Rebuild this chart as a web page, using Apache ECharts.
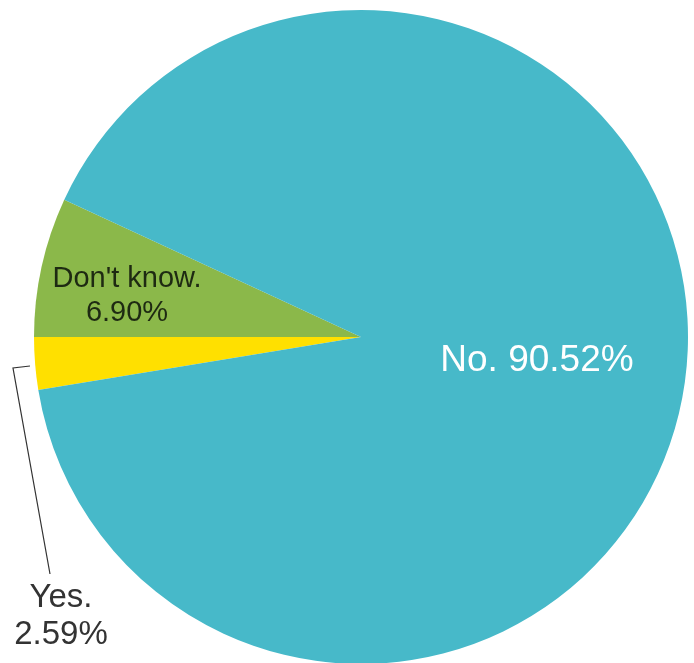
<!DOCTYPE html>
<html><head><meta charset="utf-8">
<script src="https://cdn.jsdelivr.net/npm/echarts@6/dist/echarts.min.js"></script>
<style>html,body{margin:0;padding:0;background:#fff}#c{width:694px;height:663px}</style>
</head><body><div id="c"></div>
<script>
const categories = ["Yes.", "Don't know.", "No."];
const values = [2.59, 6.90, 90.52];
const colors = ["#FFE000", "#8BB84A", "#47B9C9"];

const chart = echarts.init(document.getElementById('c'), null, {renderer: 'canvas'});
const labelSpots = [
  {x: 61, y: 616, ln: [[30, 366], [13, 368], [50, 574]]},
  {x: 127, y: 296},
  {x: 537, y: 361}
];
chart.setOption({
  animation: false,
  series: [{
    type: 'pie',
    center: [361, 337],
    radius: [0, 327],
    startAngle: 189.32,
    clockwise: true,
    avoidLabelOverlap: false,
    data: categories.map((c, i) => ({
      name: c, value: values[i],
      itemStyle: {color: colors[i]},
      label: i === 0 ? {color: '#333', fontSize: 33, lineHeight: 37} :
             i === 1 ? {color: '#1E2A12', fontSize: 29, lineHeight: 34} :
                       {color: '#ffffff', fontSize: 37, lineHeight: 42},
      labelLine: {show: i === 0, lineStyle: {color: '#333', width: 1.2}}
    })),
    label: {
      show: true,
      fontFamily: 'Liberation Sans, Arial, sans-serif',
      formatter: p => p.dataIndex === 2 ? p.name + ' ' + p.value.toFixed(2) + '%' : p.name + '\n' + p.value.toFixed(2) + '%',
      align: 'center'
    },
    labelLayout: function (p) {
      const s = labelSpots[p.dataIndex];
      const r = {x: s.x, y: s.y, align: 'center', verticalAlign: 'middle'};
      if (s.ln) r.labelLinePoints = s.ln;
      return r;
    }
  }]
});
</script></body></html>
